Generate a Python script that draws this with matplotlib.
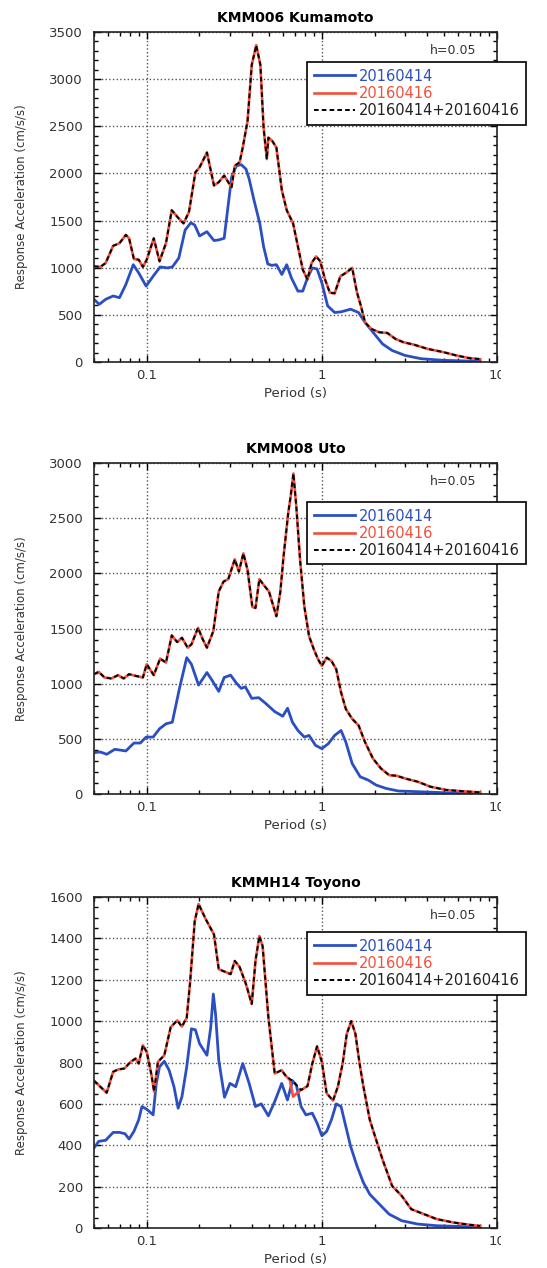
import numpy as np
import matplotlib
matplotlib.use("Agg")
import matplotlib.pyplot as plt
from matplotlib.ticker import MultipleLocator, LogLocator, NullFormatter
from matplotlib.transforms import Bbox, TransformedBbox

# ---- KMM006 Kumamoto ----
t1_blue = [0.05, 0.0536, 0.0583, 0.0643, 0.0699, 0.0760, 0.0838, 0.0900, 0.0992, 0.1088,
           0.1193, 0.1315, 0.1400, 0.1524, 0.1657, 0.1787, 0.1880, 0.2004, 0.2207, 0.2421,
           0.2578, 0.2768, 0.2864, 0.3051, 0.3251, 0.3465, 0.3687, 0.3844, 0.4099, 0.4421,
           0.4648, 0.4912, 0.5165, 0.5500, 0.591, 0.630, 0.670, 0.730, 0.778, 0.828,
           0.882, 0.939, 1.0, 1.079, 1.183, 1.287, 1.46, 1.62, 1.763, 1.96,
           2.22, 2.52, 2.98, 3.68, 4.93, 6.9, 8.0]
a1_blue = [665, 612, 665, 700, 682, 822, 1032, 945, 805, 910,
           1008, 998, 1008, 1102, 1400, 1477, 1452, 1337, 1382, 1288,
           1295, 1312, 1540, 1960, 2082, 2093, 2047, 1942, 1715, 1470,
           1225, 1040, 1025, 1032, 928, 1032, 892, 752, 752, 892,
           998, 987, 840, 595, 525, 532, 560, 525, 420, 315,
           192, 122, 70, 35, 18, 10, 8]
t1_red = [0.05, 0.0543, 0.0583, 0.0643, 0.0699, 0.0760, 0.0793, 0.0845, 0.0900, 0.0951,
          0.100, 0.1097, 0.1183, 0.1288, 0.1390, 0.1524, 0.1623, 0.1743, 0.1896, 0.2004,
          0.2207, 0.2421, 0.2577, 0.2768, 0.2922, 0.3051, 0.3183, 0.3390, 0.3534, 0.3764,
          0.3978, 0.4218, 0.4457, 0.4648, 0.4849, 0.4950, 0.5207, 0.5500, 0.591, 0.630,
          0.685, 0.730, 0.778, 0.828, 0.874, 0.927, 0.979, 1.043, 1.111, 1.183,
          1.276, 1.370, 1.490, 1.588, 1.671, 1.763, 1.918, 2.13, 2.365, 2.63,
          2.92, 3.38, 4.00, 4.93, 5.84, 6.90, 8.0]
a1_red = [1015, 1008, 1050, 1232, 1260, 1348, 1312, 1092, 1085, 1008,
          1085, 1312, 1068, 1260, 1610, 1522, 1470, 1592, 2012, 2065,
          2222, 1872, 1907, 1977, 1907, 1855, 2082, 2117, 2275, 2555,
          3150, 3360, 3150, 2485, 2152, 2380, 2345, 2275, 1820, 1610,
          1470, 1225, 980, 875, 1050, 1120, 1068, 875, 735, 728,
          910, 945, 998, 735, 595, 420, 350, 315, 308, 245,
          210, 182, 140, 105, 70, 42, 30]

# ---- KMM008 Uto ----
t2_blue = [0.05, 0.0543, 0.0591, 0.0657, 0.0699, 0.0760, 0.0845, 0.0919, 0.0992, 0.1088,
           0.1183, 0.1288, 0.1400, 0.1535, 0.1692, 0.1800, 0.1977, 0.2207, 0.2371, 0.2578,
           0.2768, 0.3013, 0.3251, 0.3465, 0.3654, 0.3978, 0.4364, 0.4746, 0.5380, 0.5979,
           0.6370, 0.6790, 0.730, 0.794, 0.845, 0.920, 1.0, 1.088, 1.183, 1.287,
           1.370, 1.490, 1.655, 1.84, 2.04, 2.32, 2.74, 3.53, 4.93, 6.9, 8.0]
a2_blue = [375, 381, 360, 405, 399, 390, 462, 462, 516, 516,
           591, 636, 651, 951, 1236, 1176, 987, 1101, 1026, 930,
           1056, 1077, 1005, 957, 972, 867, 873, 825, 747, 705,
           777, 651, 576, 516, 531, 441, 411, 456, 531, 576,
           471, 276, 156, 126, 81, 51, 27, 21, 12, 6, 5]
t2_red = [0.05, 0.0532, 0.0574, 0.0629, 0.0685, 0.0739, 0.0793, 0.0863, 0.0951, 0.100,
          0.1097, 0.1193, 0.1288, 0.1390, 0.1492, 0.1589, 0.1713, 0.1800, 0.1963, 0.2090,
          0.2207, 0.2400, 0.2578, 0.2747, 0.2922, 0.3183, 0.3359, 0.3564, 0.3764, 0.4010,
          0.4178, 0.4396, 0.4693, 0.4987, 0.5500, 0.579, 0.604, 0.643, 0.664, 0.688,
          0.715, 0.751, 0.794, 0.845, 0.900, 0.951, 1.0, 1.065, 1.134, 1.208,
          1.287, 1.370, 1.490, 1.621, 1.763, 1.958, 2.177, 2.42, 2.68, 2.98,
          3.53, 4.17, 5.15, 6.9, 8.0]
a2_red = [1086, 1107, 1056, 1047, 1077, 1047, 1086, 1071, 1056, 1176,
          1077, 1227, 1191, 1437, 1377, 1416, 1326, 1356, 1506, 1401,
          1326, 1476, 1836, 1926, 1947, 2127, 2016, 2181, 2031, 1695,
          1686, 1947, 1887, 1836, 1611, 1830, 2150, 2550, 2700, 2905,
          2601, 2121, 1701, 1431, 1311, 1221, 1161, 1236, 1206, 1131,
          921, 771, 681, 621, 471, 321, 231, 171, 165, 141,
          111, 66, 36, 21, 15]

# ---- KMMH14 Toyono ----
t3_blue = [0.05, 0.0532, 0.0583, 0.0643, 0.0699, 0.0751, 0.0793, 0.0845, 0.0900, 0.0939,
           0.100, 0.1088, 0.1134, 0.1183, 0.1260, 0.1342, 0.1431, 0.1511, 0.1589, 0.1692,
           0.1800, 0.1896, 0.2004, 0.2207, 0.2321, 0.2400, 0.2471, 0.2578, 0.2781, 0.2986,
           0.3221, 0.3534, 0.3844, 0.4178, 0.4507, 0.4950, 0.5380, 0.5898, 0.636, 0.680,
           0.715, 0.761, 0.811, 0.882, 0.939, 1.0, 1.065, 1.134, 1.208, 1.287,
           1.370, 1.459, 1.588, 1.727, 1.878, 2.13, 2.42, 2.86, 3.53, 4.53, 6.9, 8.0]
a3_blue = [387, 419, 424, 462, 462, 456, 430, 467, 523, 587,
           574, 547, 699, 779, 806, 763, 683, 579, 635, 779,
           963, 958, 891, 835, 971, 1131, 1035, 811, 632, 699,
           683, 795, 699, 587, 600, 542, 611, 699, 619, 712,
           691, 587, 547, 555, 507, 446, 467, 523, 600, 587,
           491, 395, 299, 219, 163, 115, 67, 35, 19, 11, 6, 4]
t3_red = [0.05, 0.0543, 0.0591, 0.0643, 0.0685, 0.0745, 0.0810, 0.0863, 0.0900, 0.0951,
          0.100, 0.1065, 0.1102, 0.1159, 0.1260, 0.1371, 0.1492, 0.1589, 0.1692, 0.1765,
          0.1880, 0.1977, 0.2178, 0.2421, 0.2578, 0.2864, 0.3013, 0.3183, 0.3390, 0.3687,
          0.3978, 0.4178, 0.4396, 0.4589, 0.4950, 0.5380, 0.5898, 0.617, 0.657, 0.685,
          0.720, 0.761, 0.828, 0.882, 0.939, 1.0, 1.065, 1.158, 1.234, 1.314,
          1.388, 1.472, 1.554, 1.642, 1.727, 1.878, 2.04, 2.22, 2.52, 2.86,
          3.24, 3.83, 4.53, 5.60, 6.9, 8.0]
a3_red = [712, 683, 654, 755, 766, 771, 803, 819, 795, 883,
          851, 739, 659, 803, 835, 971, 1003, 974, 1016, 1179,
          1483, 1566, 1491, 1419, 1251, 1235, 1227, 1291, 1262, 1179,
          1083, 1291, 1411, 1363, 1019, 747, 763, 739, 715, 635,
          652, 667, 686, 795, 878, 803, 651, 616, 683, 795,
          939, 1000, 939, 795, 683, 523, 427, 331, 203, 155,
          91, 67, 43, 27, 16, 10]
t3_sum = t3_red[:38] + [0.657, 0.680, 0.715] + t3_red[41:]
a3_sum = a3_red[:38] + [720, 712, 691] + a3_red[41:]

titles = ["KMM006 Kumamoto", "KMM008 Uto", "KMMH14 Toyono"]
ymaxs = [3500, 3000, 1600]
ymajor = [500, 500, 200]
yminor = [100, 100, 50]
labels = ["20160414", "20160416", "20160414+20160416"]

blue = "#2b4fc2"
red = "#f2503c"

panels = [
    (t1_blue, a1_blue, t1_red, a1_red, t1_red, a1_red),
    (t2_blue, a2_blue, t2_red, a2_red, t2_red, a2_red),
    (t3_blue, a3_blue, t3_red, a3_red, t3_sum, a3_sum),
]

fig = plt.figure(figsize=(5.47, 12.68), dpi=100)
W, H = 547.0, 1268.0
ax_px = [(32, 362), (463, 794), (897, 1228)]
leg_top = [62, 502, 932]

for i, (tb, ab, tr, ar, ts, asum) in enumerate(panels):
    top, bot = ax_px[i]
    ax = fig.add_axes([94 / W, 1 - bot / H, 403 / W, (bot - top) / H])
    ax.plot(tb, ab, color=blue, lw=2.0, label=labels[0])
    ax.plot(tr, ar, color=red, lw=1.9, label=labels[1])
    ax.plot(ts, asum, color="black", lw=1.4, ls=(0, (2.4, 1.6)), label=labels[2])

    ax.set_xscale("log")
    ax.set_xlim(0.05, 10)
    ax.set_ylim(0, ymaxs[i])
    ax.set_xticks([0.1, 1, 10])
    ax.set_xticklabels(["0.1", "1", "10"])
    ax.xaxis.set_minor_locator(LogLocator(base=10, subs=np.arange(2, 10)))
    ax.xaxis.set_minor_formatter(NullFormatter())
    ax.yaxis.set_major_locator(MultipleLocator(ymajor[i]))
    ax.yaxis.set_minor_locator(MultipleLocator(yminor[i]))
    ax.tick_params(which="both", direction="in", top=True, right=True,
                   labelsize=9.5, labelcolor="#333333", width=1)
    ax.tick_params(which="major", length=5)
    ax.tick_params(which="minor", length=3)
    ax.tick_params(axis="y", pad=8)
    ax.tick_params(axis="x", pad=5)
    ax.grid(True, which="major", ls=":", color="#555555", lw=1)
    for s in ax.spines.values():
        s.set_linewidth(1.2)
        s.set_color("#222222")

    # the "10" label is cut at the right edge in the original
    cb = TransformedBbox(Bbox([[-0.5, -0.5], [1.01, 1.0]]), ax.transAxes)
    for lab in ax.get_xticklabels():
        lab.set_clip_on(True)
        lab.set_clip_box(cb)

    ax.set_title(titles[i], fontsize=10, fontweight="bold", pad=7)
    ax.set_xlabel("Period (s)", fontsize=9.5, color="#333333")
    ax.set_ylabel("Response Acceleration (cm/s/s)", fontsize=8.5, color="#333333")
    ax.xaxis.set_label_coords(0.5, -0.075)
    ax.yaxis.set_label_coords(-0.165, 0.5)
    ax.text(0.95, 0.945, "h=0.05", transform=ax.transAxes, ha="right", va="center",
            fontsize=9, color="#333333")

    ly = (bot - leg_top[i]) / (bot - top)
    leg = ax.legend(loc="upper left", bbox_to_anchor=(0.529, ly), borderaxespad=0,
                    fontsize=10.5, handlelength=2.8, handletextpad=0.3,
                    labelspacing=0.15, borderpad=0.45, fancybox=False,
                    framealpha=1, edgecolor="black")
    leg.get_frame().set_linewidth(1.2)
    for txt, c in zip(leg.get_texts(), [blue, red, "#222222"]):
        txt.set_color(c)

fig.savefig("out.png", dpi=100)
